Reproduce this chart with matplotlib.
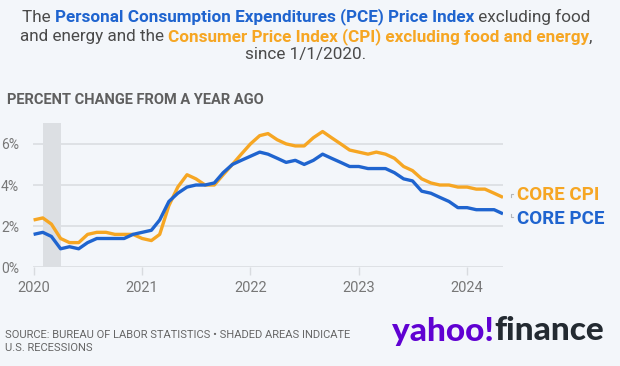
import pandas as pd
import matplotlib
matplotlib.use('Agg')
import matplotlib.pyplot as plt
import matplotlib.dates as mdates
from matplotlib.lines import Line2D
from matplotlib.transforms import IdentityTransform

# Данные: годовое изменение базовых индексов, %
months = pd.date_range('2020-01-01', periods=53, freq='MS')
core_cpi = [2.3, 2.4, 2.1, 1.4, 1.2, 1.2, 1.6, 1.7, 1.7, 1.6, 1.6, 1.6,
            1.4, 1.3, 1.6, 3.0, 3.9, 4.5, 4.3, 4.0, 4.0, 4.5, 5.0, 5.5,
            6.0, 6.4, 6.5, 6.2, 6.0, 5.9, 5.9, 6.3, 6.6, 6.3, 6.0, 5.7,
            5.6, 5.5, 5.6, 5.5, 5.3, 4.9, 4.7, 4.3, 4.1, 4.0, 4.0, 3.9,
            3.9, 3.8, 3.8, 3.6, 3.4]
core_pce = [1.6, 1.7, 1.5, 0.9, 1.0, 0.9, 1.2, 1.4, 1.4, 1.4, 1.4, 1.6,
            1.7, 1.8, 2.3, 3.2, 3.6, 3.9, 4.0, 4.0, 4.1, 4.6, 5.0, 5.2,
            5.4, 5.6, 5.5, 5.3, 5.1, 5.2, 5.0, 5.2, 5.5, 5.3, 5.1, 4.9,
            4.9, 4.8, 4.8, 4.8, 4.6, 4.3, 4.2, 3.7, 3.6, 3.4, 3.2, 2.9,
            2.9, 2.8, 2.8, 2.8, 2.6]
recession = ('2020-02-03', '2020-04-01')
yticks = [0, 2, 4, 6]
years = ['2020', '2021', '2022', '2023', '2024']

BG = '#f3f6fa'
BLUE = '#1f64cf'
ORANGE = '#f6a623'
GREY = '#4a4a4a'

fig = plt.figure(figsize=(6.2, 3.66), dpi=100, facecolor=BG)
ax = fig.add_axes([33 / 620, 1 - 267.3 / 366, 470 / 620, 144 / 366])
ax.set_facecolor(BG)

ax.axvspan(pd.Timestamp(recession[0]), pd.Timestamp(recession[1]), color='#dcdfe3', lw=0, zorder=1)
for v in yticks:
    ax.axhline(v, color='#d8dbdf', lw=1.1, zorder=0)

ax.plot(months, core_cpi, color=ORANGE, lw=2.4, solid_joinstyle='round', solid_capstyle='butt', zorder=3)
ax.plot(months, core_pce, color=BLUE, lw=2.4, solid_joinstyle='round', solid_capstyle='butt', zorder=4)

ax.set_ylim(0, 7)
ax.set_xlim(pd.Timestamp('2019-12-30'), months[-1])
ax.set_yticks(yticks)
ax.set_yticklabels([f'{v}%' for v in yticks])
ax.set_xticks([pd.Timestamp(f'{y}-01-01') for y in years])
ax.set_xticklabels(years)
for s in ax.spines.values():
    s.set_visible(False)
ax.tick_params(axis='y', length=0, pad=10, labelsize=10, labelcolor='#777777')
ax.tick_params(axis='x', length=6, width=1, color='#d8dbdf', pad=4, labelsize=10.5, labelcolor='#777777')
for t in ax.get_xticklabels() + ax.get_yticklabels():
    t.set_fontfamily('Roboto')

# подписи серий справа
fig.canvas.draw()
r = fig.canvas.get_renderer()
for vals, name, col, dy, mark in [(core_cpi, 'CORE CPI', ORANGE, 2, [(8, 0), (8, 3), (10, 3)]),
                                  (core_pce, 'CORE PCE', BLUE, -3.5, [(8, 0), (8, -3), (10, -3)])]:
    ax.annotate(name, xy=(months[-1], vals[-1]), xytext=(10, dy), textcoords='offset points',
                va='center', ha='left', color=col, fontsize=13.5, fontweight='bold', family='Roboto',
                annotation_clip=False)
    # крошечная выноска (в пикселях от конца линии)
    px, py = ax.transData.transform((mdates.date2num(months[-1]), vals[-1]))
    fig.add_artist(Line2D([px + dx for dx, _ in mark], [py + dy2 for _, dy2 in mark],
                          transform=IdentityTransform(), color='#b5b8bc', lw=0.8))

# заголовок с цветными фрагментами
title_lines = [
    [('The ', GREY, 'normal'), ('Personal Consumption Expenditures (PCE) Price Index', BLUE, 'bold'),
     (' excluding food', GREY, 'normal')],
    [('and energy and the ', GREY, 'normal'),
     ('Consumer Price Index (CPI) excluding food and energy', ORANGE, 'bold'), (',', GREY, 'normal')],
    [('since 1/1/2020.', GREY, 'normal')],
]
title_y = [17, 37, 55]
for parts, ypx in zip(title_lines, title_y):
    texts = [fig.text(0, 1 - ypx / 366, s, color=c, fontweight=w, fontsize=12.3, family='Roboto',
                      va='center', ha='left') for s, c, w in parts]
    widths = [t.get_window_extent(r).width for t in texts]
    x = 306 - sum(widths) / 2
    for t, w in zip(texts, widths):
        t.set_x(x / 620)
        x += w

fig.text(7 / 620, 1 - 100 / 366, 'PERCENT CHANGE FROM A YEAR AGO', color='#5f5f5f', fontsize=10.5,
         fontweight='bold', family='Roboto', va='center', ha='left')

fig.text(5 / 620, 1 - 341.5 / 366, 'SOURCE: BUREAU OF LABOR STATISTICS \u2022 SHADED AREAS INDICATE\nU.S. RECESSIONS',
         color='#666666', fontsize=8, family='Roboto', va='center', ha='left', linespacing=1.4)

# логотип
t1 = fig.text(392 / 620, 1 - 331 / 366, 'yahoo!', color='#6001d2', fontsize=24, fontweight='black',
              family='Lato', va='center', ha='left')
w1 = t1.get_window_extent(r).width
fig.text((392 + w1) / 620, 1 - 331 / 366, 'finance', color='#232a31', fontsize=24, fontweight='black',
         family='Lato', va='center', ha='left')

fig.savefig('out.png', dpi=100, facecolor=BG)
